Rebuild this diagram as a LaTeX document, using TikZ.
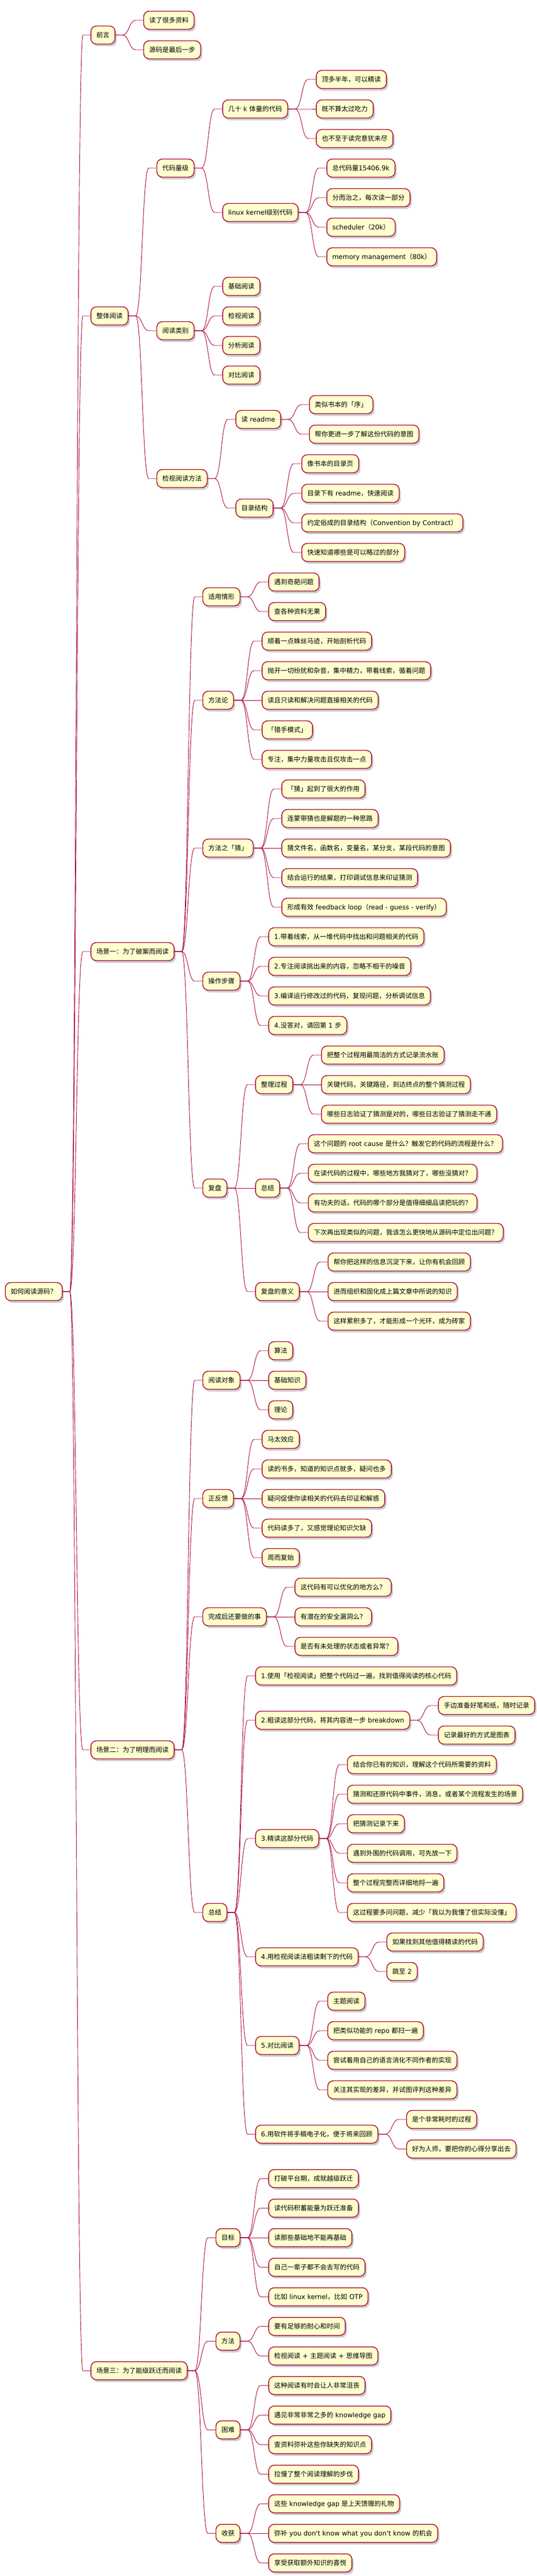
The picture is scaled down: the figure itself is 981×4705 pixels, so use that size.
\documentclass[tikz,border=0pt]{standalone}
\usepackage{fontspec}
\setmainfont{Noto Sans CJK SC}
\newfontfamily\latfont{DejaVu Sans}
\usetikzlibrary{calc,shadows}
\newcommand\La[1]{{\latfont #1}}
\definecolor{mmfill}{HTML}{FEFECE}
\definecolor{mmred}{HTML}{A80036}
\tikzset{
  mmbox/.style={draw=mmred, fill=mmfill, line width=1.4pt, rounded corners=10pt,
    minimum height=33pt, inner xsep=10pt, inner ysep=0pt, text height=10pt, text depth=1pt,
    font=\fontsize{12}{14}\selectfont, text=black,
    drop shadow={shadow xshift=3pt,shadow yshift=-4pt,fill=black,opacity=0.2}},
  mmline/.style={draw=mmred, line width=0.9pt},
}
\newcommand\mm[4]{%
  \path let \p1=(#2.east) in node[mmbox,anchor=west] (#1) at (\x1+51pt,-#3pt) {#4};
  \draw[mmline] (#2.east) -- ++(13pt,0) .. controls +(12pt,0) and +(-12pt,0) .. ($(#1.west)+(-14pt,0)$) -- (#1.west);
}
\begin{document}
\begin{tikzpicture}
\useasboundingbox (0,0) rectangle (981pt,-4705pt);
\node[mmbox,anchor=west] (r) at (9pt,-2359pt) {如何阅读源码？};
% 前言
\mm{p}{r}{64}{前言}
\mm{p1}{p}{37}{读了很多资料}
\mm{p2}{p}{91}{源码是最后一步}
% 整体阅读
\mm{z}{r}{577}{整体阅读}
\mm{za}{z}{307}{代码量级}
\mm{zaa}{za}{199}{几十\La{ k }体量的代码}
\mm{zaa1}{zaa}{145}{顶多半年，可以精读}
\mm{zaa2}{zaa}{199}{既不算太过吃力}
\mm{zaa3}{zaa}{253}{也不至于读完意犹未尽}
\mm{zab}{za}{388}{\La{linux kernel}级别代码}
\mm{zab1}{zab}{307}{总代码量\La{15406.9k}}
\mm{zab2}{zab}{361}{分而治之，每次读一部分}
\mm{zab3}{zab}{415}{\La{scheduler}（\La{20k}）}
\mm{zab4}{zab}{469}{\La{memory management}（\La{80k}）}
\mm{zb}{z}{604}{阅读类别}
\mm{zb1}{zb}{523}{基础阅读}
\mm{zb2}{zb}{577}{检视阅读}
\mm{zb3}{zb}{631}{分析阅读}
\mm{zb4}{zb}{685}{对比阅读}
\mm{zc}{z}{874}{检视阅读方法}
\mm{zca}{zc}{766}{读\La{ readme}}
\mm{zca1}{zca}{739}{类似书本的「序」}
\mm{zca2}{zca}{793}{帮你更进一步了解这份代码的意图}
\mm{zcb}{zc}{928}{目录结构}
\mm{zcb1}{zcb}{847}{像书本的目录页}
\mm{zcb2}{zcb}{901}{目录下有\La{ readme}，快速阅读}
\mm{zcb3}{zcb}{955}{约定俗成的目录结构（\La{Convention by Contract}）}
\mm{zcb4}{zcb}{1009}{快速知道哪些是可以略过的部分}
% 场景一
\mm{sa}{r}{1738}{场景一：为了破案而阅读}
\mm{saa}{sa}{1090}{适用情形}
\mm{saa1}{saa}{1063}{遇到奇葩问题}
\mm{saa2}{saa}{1117}{查各种资料无果}
\mm{sab}{sa}{1279}{方法论}
\mm{sab1}{sab}{1171}{顺着一点蛛丝马迹，开始剖析代码}
\mm{sab2}{sab}{1225}{抛开一切纷扰和杂音，集中精力，带着线索，循着问题}
\mm{sab3}{sab}{1279}{读且只读和解决问题直接相关的代码}
\mm{sab4}{sab}{1333}{「猎手模式」}
\mm{sab5}{sab}{1387}{专注，集中力量攻击且仅攻击一点}
\mm{sac}{sa}{1549}{方法之「猜」}
\mm{sac1}{sac}{1441}{「猜」起到了很大的作用}
\mm{sac2}{sac}{1495}{连蒙带猜也是解题的一种思路}
\mm{sac3}{sac}{1549}{猜文件名，函数名，变量名，某分支，某段代码的意图}
\mm{sac4}{sac}{1603}{结合运行的结果，打印调试信息来印证猜测}
\mm{sac5}{sac}{1657}{形成有效\La{ feedback loop}（\La{read - guess - verify}）}
\mm{sad}{sa}{1792}{操作步骤}
\mm{sad1}{sad}{1711}{\La{1.}带着线索，从一堆代码中找出和问题相关的代码}
\mm{sad2}{sad}{1765}{\La{2.}专注阅读挑出来的内容，忽略不相干的噪音}
\mm{sad3}{sad}{1819}{\La{3.}编译运行修改过的代码，复现问题，分析调试信息}
\mm{sad4}{sad}{1873}{\La{4.}没答对，请回第\La{ 1 }步}
\mm{sae}{sa}{2170}{复盘}
\mm{saea}{sae}{1981}{整理过程}
\mm{saea1}{saea}{1927}{把整个过程用最简洁的方式记录流水账}
\mm{saea2}{saea}{1981}{关键代码，关键路径，到达终点的整个猜测过程}
\mm{saea3}{saea}{2035}{哪些日志验证了猜测是对的，哪些日志验证了猜测走不通}
\mm{saeb}{sae}{2170}{总结}
\mm{saeb1}{saeb}{2089}{这个问题的\La{ root cause }是什么？触发它的代码的流程是什么？}
\mm{saeb2}{saeb}{2143}{在读代码的过程中，哪些地方我猜对了，哪些没猜对？}
\mm{saeb3}{saeb}{2197}{有功夫的话，代码的哪个部分是值得细细品读把玩的？}
\mm{saeb4}{saeb}{2251}{下次再出现类似的问题，我该怎么更快地从源码中定位出问题？}
\mm{saec}{sae}{2359}{复盘的意义}
\mm{saec1}{saec}{2305}{帮你把这样的信息沉淀下来，让你有机会回顾}
\mm{saec2}{saec}{2359}{进而组织和固化成上篇文章中所说的知识}
\mm{saec3}{saec}{2413}{这样累积多了，才能形成一个光环，成为砖家}
% 场景二
\mm{sb}{r}{3196}{场景二：为了明理而阅读}
\mm{sba}{sb}{2521}{阅读对象}
\mm{sba1}{sba}{2467}{算法}
\mm{sba2}{sba}{2521}{基础知识}
\mm{sba3}{sba}{2575}{理论}
\mm{sbb}{sb}{2737}{正反馈}
\mm{sbb1}{sbb}{2629}{马太效应}
\mm{sbb2}{sbb}{2683}{读的书多，知道的知识点就多，疑问也多}
\mm{sbb3}{sbb}{2737}{疑问促使你读相关的代码去印证和解惑}
\mm{sbb4}{sbb}{2791}{代码读多了，又感觉理论知识欠缺}
\mm{sbb5}{sbb}{2845}{周而复始}
\mm{sbc}{sb}{2953}{完成后还要做的事}
\mm{sbc1}{sbc}{2899}{这代码有可以优化的地方么？}
\mm{sbc2}{sbc}{2953}{有潜在的安全漏洞么？}
\mm{sbc3}{sbc}{3007}{是否有未处理的状态或者异常？}
\mm{sbd}{sb}{3493}{总结}
\mm{sbd1}{sbd}{3061}{\La{1.}使用「检视阅读」把整个代码过一遍，找到值得阅读的核心代码}
\mm{sbd2}{sbd}{3142}{\La{2.}粗读这部分代码，将其内容进一步\La{ breakdown}}
\mm{sbd2a}{sbd2}{3115}{手边准备好笔和纸，随时记录}
\mm{sbd2b}{sbd2}{3169}{记录最好的方式是图表}
\mm{sbd3}{sbd}{3358}{\La{3.}精读这部分代码}
\mm{sbd3a}{sbd3}{3223}{结合你已有的知识，理解这个代码所需要的资料}
\mm{sbd3b}{sbd3}{3277}{猜测和还原代码中事件，消息，或者某个流程发生的场景}
\mm{sbd3c}{sbd3}{3331}{把猜测记录下来}
\mm{sbd3d}{sbd3}{3385}{遇到外围的代码调用，可先放一下}
\mm{sbd3e}{sbd3}{3439}{整个过程完整而详细地捋一遍}
\mm{sbd3f}{sbd3}{3493}{这过程要多问问题，减少「我以为我懂了但实际没懂」}
\mm{sbd4}{sbd}{3574}{\La{4.}用检视阅读法粗读剩下的代码}
\mm{sbd4a}{sbd4}{3547}{如果找到其他值得精读的代码}
\mm{sbd4b}{sbd4}{3601}{跳至\La{ 2}}
\mm{sbd5}{sbd}{3736}{\La{5.}对比阅读}
\mm{sbd5a}{sbd5}{3655}{主题阅读}
\mm{sbd5b}{sbd5}{3709}{把类似功能的\La{ repo }都扫一遍}
\mm{sbd5c}{sbd5}{3763}{尝试着用自己的语言消化不同作者的实现}
\mm{sbd5d}{sbd5}{3817}{关注其实现的差异，并试图评判这种差异}
\mm{sbd6}{sbd}{3898}{\La{6.}用软件将手稿电子化，便于将来回顾}
\mm{sbd6a}{sbd6}{3871}{是个非常耗时的过程}
\mm{sbd6b}{sbd6}{3925}{好为人师，要把你的心得分享出去}
% 场景三
\mm{sc}{r}{4330}{场景三：为了能级跃迁而阅读}
\mm{sca}{sc}{4087}{目标}
\mm{sca1}{sca}{3979}{打破平台期，成就越级跃迁}
\mm{sca2}{sca}{4033}{读代码积蓄能量为跃迁准备}
\mm{sca3}{sca}{4087}{读那些基础地不能再基础}
\mm{sca4}{sca}{4141}{自己一辈子都不会去写的代码}
\mm{sca5}{sca}{4195}{比如\La{ linux kernel}，比如\La{ OTP}}
\mm{scb}{sc}{4276}{方法}
\mm{scb1}{scb}{4249}{要有足够的耐心和时间}
\mm{scb2}{scb}{4303}{检视阅读\La{ + }主题阅读\La{ + }思维导图}
\mm{scc}{sc}{4438}{困难}
\mm{scc1}{scc}{4357}{这种阅读有时会让人非常沮丧}
\mm{scc2}{scc}{4411}{遇见非常非常之多的\La{ knowledge gap}}
\mm{scc3}{scc}{4465}{查资料弥补这些你缺失的知识点}
\mm{scc4}{scc}{4519}{拉慢了整个阅读理解的步伐}
\mm{scd}{sc}{4627}{收获}
\mm{scd1}{scd}{4573}{这些\La{ knowledge gap }是上天馈赠的礼物}
\mm{scd2}{scd}{4627}{弥补\La{ you don\textquotesingle t know what you don\textquotesingle t know }的机会}
\mm{scd3}{scd}{4681}{享受获取额外知识的喜悦}
\end{tikzpicture}
\end{document}
